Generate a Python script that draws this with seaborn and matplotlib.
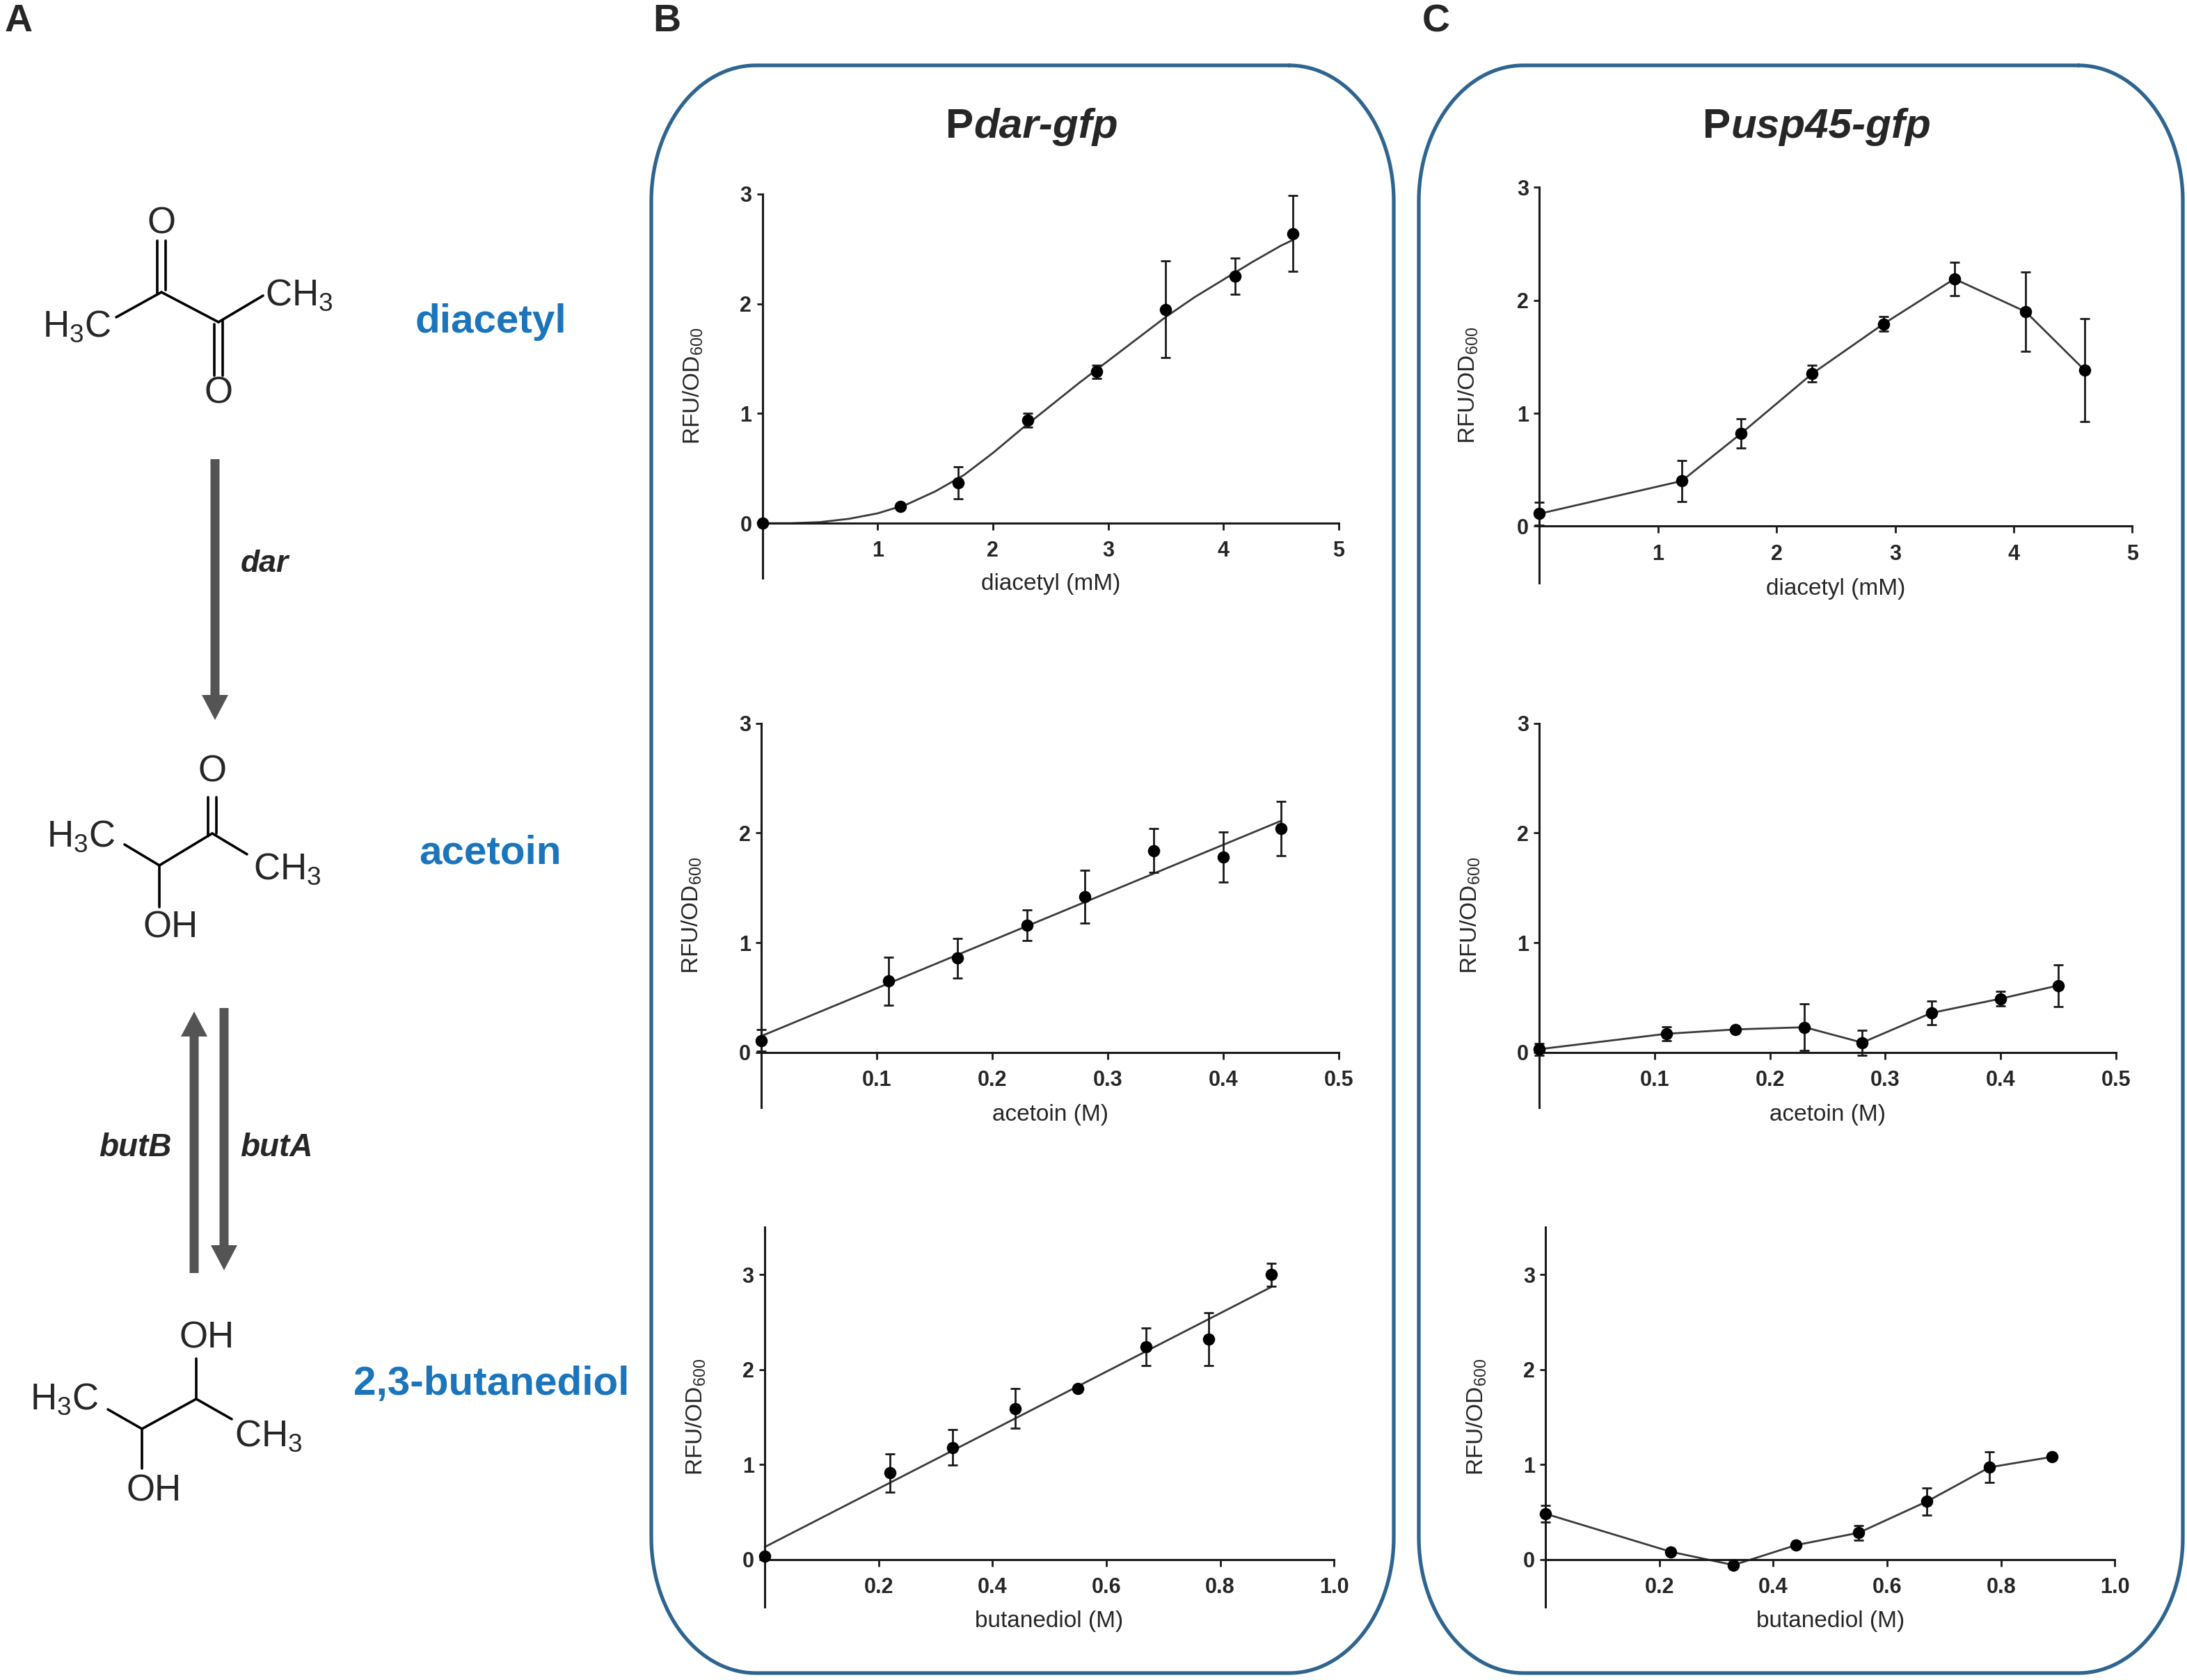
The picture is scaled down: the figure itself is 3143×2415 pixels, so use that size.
import numpy as np
import pandas as pd
import matplotlib
matplotlib.use("Agg")
import matplotlib.pyplot as plt
import seaborn as sns
from matplotlib.patches import FancyArrow

# ---- data ----
diacetyl_mM = [0, 1.2, 1.7, 2.3, 2.9, 3.5, 4.1, 4.6]
acetoin_M = [0, 0.11, 0.17, 0.23, 0.28, 0.34, 0.40, 0.45]
butanediol_M = [0, 0.22, 0.33, 0.44, 0.55, 0.67, 0.78, 0.89]

# Pdar-gfp
dar_diacetyl = [0.0, 0.15, 0.37, 0.94, 1.38, 1.95, 2.25, 2.64]
dar_diacetyl_err = [0, 0, 0.145, 0.065, 0.06, 0.44, 0.165, 0.345]
dar_acetoin = [0.11, 0.65, 0.86, 1.16, 1.42, 1.84, 1.78, 2.04]
dar_acetoin_err = [0.10, 0.22, 0.18, 0.14, 0.24, 0.20, 0.23, 0.245]
dar_butanediol = [0.03, 0.91, 1.18, 1.59, 1.80, 2.24, 2.32, 3.00]
dar_butanediol_err = [0, 0.20, 0.185, 0.21, 0, 0.20, 0.28, 0.12]

# fitted curves of Pdar-gfp
dar_diacetyl_fit_x = [0, 0.25, 0.5, 0.75, 1.0, 1.25, 1.5, 1.75, 2.0, 2.25, 2.5,
                      2.75, 3.0, 3.25, 3.5, 3.75, 4.0, 4.25, 4.5, 4.6]
dar_diacetyl_fit_y = [0, 0.0, 0.01, 0.04, 0.09, 0.17, 0.29, 0.44, 0.64, 0.86, 1.07,
                      1.28, 1.48, 1.68, 1.88, 2.06, 2.22, 2.38, 2.53, 2.58]
dar_acetoin_fit_x = [0, 0.45]
dar_acetoin_fit_y = [0.15, 2.11]
dar_butanediol_fit_x = [0, 0.89]
dar_butanediol_fit_y = [0.13, 2.87]

# Pusp45-gfp
usp_diacetyl = [0.11, 0.40, 0.82, 1.35, 1.79, 2.19, 1.90, 1.38]
usp_diacetyl_err = [0.10, 0.18, 0.13, 0.075, 0.065, 0.15, 0.35, 0.455]
usp_acetoin = [0.03, 0.17, 0.21, 0.23, 0.09, 0.36, 0.49, 0.61]
usp_acetoin_err = [0.055, 0.065, 0, 0.21, 0.115, 0.11, 0.065, 0.19]
usp_butanediol = [0.48, 0.08, -0.06, 0.15, 0.28, 0.61, 0.97, 1.08]
usp_butanediol_err = [0.085, 0, 0, 0, 0.075, 0.145, 0.16, 0]

W, H = 3143, 2415
sns.set_style("white")
plt.rcParams['font.family'] = ['Liberation Sans', 'DejaVu Sans']
plt.rcParams['mathtext.fontset'] = 'custom'
plt.rcParams['mathtext.rm'] = 'Liberation Sans'
plt.rcParams['mathtext.it'] = 'Liberation Sans:italic'
plt.rcParams['mathtext.bf'] = 'Liberation Sans:bold'

fig = plt.figure(figsize=(W / 200, H / 200), dpi=200)
renderer = fig.canvas.get_renderer()

# overlay in pixel units for the scheme and frames
ov = fig.add_axes([0, 0, 1, 1])
ov.set_xlim(0, W)
ov.set_ylim(H, 0)
ov.axis('off')


def rounded_box(left, right, top, bottom, rx, ry, color):
    xs, ys = [], []
    for cx, cy, t0 in [(right - rx, top + ry, -np.pi / 2), (right - rx, bottom - ry, 0),
                       (left + rx, bottom - ry, np.pi / 2), (left + rx, top + ry, np.pi)]:
        t = np.linspace(t0, t0 + np.pi / 2, 40)
        xs += list(cx + rx * np.cos(t))
        ys += list(cy + ry * np.sin(t))
    xs.append(xs[0])
    ys.append(ys[0])
    ov.plot(xs, ys, color=color, lw=1.9, solid_capstyle='round')


def title(xc, yb, plain, italic, fs=21.7):
    t1 = ov.text(0, yb, plain, fontsize=fs, weight='bold', ha='left', va='baseline')
    t2 = ov.text(0, yb, italic, fontsize=fs, weight='bold', style='italic', ha='left', va='baseline')
    w1 = t1.get_window_extent(renderer).width
    w2 = t2.get_window_extent(renderer).width
    x0 = xc - (w1 + w2) / 2
    t1.set_x(x0)
    t2.set_x(x0 + w1)


box_color = '#2e6590'
rounded_box(936, 2003, 94, 2405, 150, 195, box_color)
rounded_box(2039, 3137, 94, 2405, 150, 195, box_color)

# panel letters and titles
ov.text(7, 5, 'A', fontsize=20, weight='bold', ha='left', va='top')
ov.text(938, 5, 'B', fontsize=20, weight='bold', ha='left', va='top')
ov.text(2044, 5, 'C', fontsize=20, weight='bold', ha='left', va='top')
title(1483, 198, 'P', 'dar-gfp')
title(2611, 198, 'P', 'usp45-gfp')

# ---- scheme (panel A) ----
chem_fs = 19
bond_lw = 1.3
blue = '#1b75bc'
grey = '#545454'


def bonds(segments):
    for (x1, y1), (x2, y2) in segments:
        ov.plot([x1, x2], [y1, y2], color='black', lw=bond_lw, solid_capstyle='round')


# diacetyl
bonds([((167, 456), (232, 420)), ((232, 420), (314, 463)), ((314, 463), (378, 425)),
       ((226, 346), (226, 423)), ((238, 346), (238, 417)),
       ((308, 466), (308, 540)), ((320, 460), (320, 540))])
ov.text(110, 470, r'H$_3$C', fontsize=chem_fs, ha='center', va='center')
ov.text(381, 425, r'CH$_3$', fontsize=chem_fs, ha='left', va='center')
ov.text(232, 322, 'O', fontsize=chem_fs, ha='center', va='center')
ov.text(314, 565, 'O', fontsize=chem_fs, ha='center', va='center')
ov.text(705, 463, 'diacetyl', fontsize=21, weight='bold', color=blue, ha='center', va='center')

ov.add_patch(FancyArrow(309, 660, 0, 375, width=13, head_width=38, head_length=36,
                        length_includes_head=True, color=grey, lw=0))
ov.text(346, 810, 'dar', fontsize=16, weight='bold', style='italic', ha='left', va='center')

# acetoin
bonds([((179, 1214), (229, 1244)), ((229, 1244), (305, 1198)), ((305, 1198), (355, 1228)),
       ((299, 1146), (299, 1202)), ((311, 1146), (311, 1198)),
       ((229, 1244), (229, 1304))])
ov.text(116, 1203, r'H$_3$C', fontsize=chem_fs, ha='center', va='center')
ov.text(364, 1250, r'CH$_3$', fontsize=chem_fs, ha='left', va='center')
ov.text(305, 1110, 'O', fontsize=chem_fs, ha='center', va='center')
ov.text(205, 1333, 'OH', fontsize=chem_fs, ha='left', va='center')
ov.text(705, 1226, 'acetoin', fontsize=21, weight='bold', color=blue, ha='center', va='center')

ov.add_patch(FancyArrow(279, 1830, 0, -376, width=13, head_width=38, head_length=36,
                        length_includes_head=True, color=grey, lw=0))
ov.add_patch(FancyArrow(322, 1449, 0, 377, width=13, head_width=38, head_length=36,
                        length_includes_head=True, color=grey, lw=0))
ov.text(247, 1650, 'butB', fontsize=16.5, weight='bold', style='italic', ha='right', va='center')
ov.text(345, 1650, 'butA', fontsize=16.5, weight='bold', style='italic', ha='left', va='center')

# 2,3-butanediol
bonds([((282, 1953), (282, 2011)), ((155, 2026), (204, 2054)), ((204, 2054), (282, 2011)),
       ((282, 2011), (333, 2040)), ((204, 2054), (204, 2111))])
ov.text(92, 2012, r'H$_3$C', fontsize=chem_fs, ha='center', va='center')
ov.text(337, 2065, r'CH$_3$', fontsize=chem_fs, ha='left', va='center')
ov.text(258, 1923, 'OH', fontsize=chem_fs, ha='left', va='center')
ov.text(182, 2144, 'OH', fontsize=chem_fs, ha='left', va='center')
ov.text(706, 1990, '2,3-butanediol', fontsize=21, weight='bold', color=blue, ha='center', va='center')


# ---- plots (panels B and C) ----
def px_axes(left, right, top, bottom):
    ax = fig.add_axes([left / W, 1 - bottom / H, (right - left) / W, (bottom - top) / H])
    ax.set_facecolor('none')
    return ax


def draw_panel(ax, x, y, err, line_x, line_y, ylim, xticks, xticklabels, xlabel, label_y):
    sns.lineplot(x=line_x, y=line_y, ax=ax, color='#3a3a3a', lw=1.0, sort=False,
                 estimator=None, errorbar=None, clip_on=False)
    eb = ax.errorbar(x, y, yerr=err, fmt='none', ecolor='#1a1a1a', elinewidth=1.0,
                     capsize=2.6, capthick=1.0)
    for art in list(eb.lines[1]) + list(eb.lines[2]):
        art.set_clip_on(False)
    sns.scatterplot(x=x, y=y, ax=ax, color='black', s=40, linewidth=0, zorder=5, clip_on=False)
    ax.set_xlim(0, xticks[-1])
    ax.set_ylim(ylim)
    ax.spines[['top', 'right']].set_visible(False)
    ax.spines['bottom'].set_position(('data', 0))
    for side in ['left', 'bottom']:
        ax.spines[side].set_linewidth(1.1)
        ax.spines[side].set_color('#1a1a1a')
    ax.set_xticks(xticks, labels=xticklabels, fontweight='bold')
    ax.set_yticks([0, 1, 2, 3], labels=['0', '1', '2', '3'], fontweight='bold')
    ax.tick_params(axis='x', length=3.6, width=1.0, pad=5.5, labelsize=11, direction='out',
                   bottom=True, color='#1a1a1a')
    ax.tick_params(axis='y', length=3, width=1.0, pad=2.5, labelsize=11, direction='out',
                   left=True, color='#1a1a1a')
    ax.set_xlabel(xlabel, fontsize=12)
    ax.xaxis.set_label_coords(0.5, label_y)
    ax.set_ylabel('RFU/OD$_{600}$', fontsize=12)
    ax.yaxis.set_label_coords(-0.10, 0.5)


ax_b1 = px_axes(1095.6, 1923.9, 278.9, 831)
draw_panel(ax_b1, diacetyl_mM, dar_diacetyl, dar_diacetyl_err, dar_diacetyl_fit_x, dar_diacetyl_fit_y,
           (-0.5, 3), [1, 2, 3, 4, 5], ['1', '2', '3', '4', '5'], 'diacetyl (mM)', 0.012)

ax_b2 = px_axes(1094.3, 1923.9, 1039.6, 1591.8)
draw_panel(ax_b2, acetoin_M, dar_acetoin, dar_acetoin_err, dar_acetoin_fit_x, dar_acetoin_fit_y,
           (-0.5, 3), [0.1, 0.2, 0.3, 0.4, 0.5], ['0.1', '0.2', '0.3', '0.4', '0.5'], 'acetoin (M)',
           0.008)

ax_b3 = px_axes(1099, 1917.2, 1764, 2309.8)
draw_panel(ax_b3, butanediol_M, dar_butanediol, dar_butanediol_err, dar_butanediol_fit_x,
           dar_butanediol_fit_y, (-0.5, 3.5), [0.2, 0.4, 0.6, 0.8, 1.0],
           ['0.2', '0.4', '0.6', '0.8', '1.0'], 'butanediol (M)', -0.01)

ax_c1 = px_axes(2212.4, 3064.3, 269.4, 837.5)
draw_panel(ax_c1, diacetyl_mM, usp_diacetyl, usp_diacetyl_err, diacetyl_mM, usp_diacetyl,
           (-0.5, 3), [1, 2, 3, 4, 5], ['1', '2', '3', '4', '5'], 'diacetyl (mM)', 0.012)

ax_c2 = px_axes(2212.4, 3040.7, 1039.6, 1591.8)
draw_panel(ax_c2, acetoin_M, usp_acetoin, usp_acetoin_err, acetoin_M, usp_acetoin,
           (-0.5, 3), [0.1, 0.2, 0.3, 0.4, 0.5], ['0.1', '0.2', '0.3', '0.4', '0.5'], 'acetoin (M)',
           0.008)

ax_c3 = px_axes(2221.2, 3039.3, 1764, 2309.8)
draw_panel(ax_c3, butanediol_M, usp_butanediol, usp_butanediol_err, butanediol_M, usp_butanediol,
           (-0.5, 3.5), [0.2, 0.4, 0.6, 0.8, 1.0], ['0.2', '0.4', '0.6', '0.8', '1.0'],
           'butanediol (M)', -0.01)

fig.savefig('out.png', dpi=200)
